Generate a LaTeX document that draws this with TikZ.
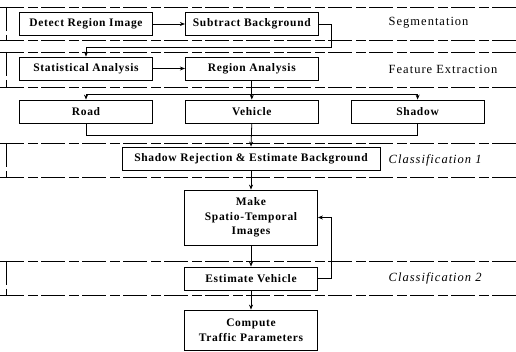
\documentclass[tikz,border=0pt]{standalone}
\usepackage{fontspec}
\setmainfont{Liberation Serif}
\newfontfamily\boxfont[LetterSpace=6]{Liberation Serif}
\newfontfamily\stagefont[LetterSpace=8]{Liberation Serif}
\usetikzlibrary{positioning,arrows.meta}

\begin{document}
\begin{tikzpicture}[x=1pt,y=1pt,>={Stealth[length=5pt,width=4pt]},line width=0.8pt,
    node distance=32pt,
    proc box/.style={draw,rectangle,minimum width=133pt,minimum height=23pt,inner sep=1pt,align=center,font=\boxfont\fontsize{11.5}{14.5}\selectfont\bfseries},
    stage label/.style={anchor=west,font=\stagefont\fontsize{12.5}{15}\selectfont},
    sep line/.style={line width=0.55pt,dash pattern=on 24pt off 4pt on 10pt off 3pt}]
    \useasboundingbox (0,0) rectangle (516,-352);

    % stage separators
    \foreach \y in {7,40,52,87,143,177,261,295}
        \draw[sep line] (0,-\y) -- (516,-\y);
    \foreach \a/\b in {7/40,52/87,143/177,261/295}
        \draw[sep line] (6,-\a) -- (6,-\b);

    % boxes
    \node[proc box] (detect) at (86,-24) {Detect Region Image};
    \node[proc box] (subtract) [right=of detect] {Subtract Background};
    \node[proc box] (stat) at (86,-68.5) {Statistical Analysis};
    \node[proc box] (region) [right=of stat] {Region Analysis};
    \node[proc box] (road) at (86,-111.5) {Road};
    \node[proc box] (vehicle) [right=of road] {Vehicle};
    \node[proc box] (shadow) [right=of vehicle] {Shadow};
    \node[proc box,minimum width=258pt] (reject) at (251,-158.5) {Shadow Rejection \& Estimate Background};
    \node[proc box,minimum height=55pt] (make) at (251,-217.5) {Make\\Spatio-Temporal\\Images};
    \node[proc box] (estimate) at (251,-278.5) {Estimate Vehicle};
    \node[proc box,minimum height=40pt] (compute) at (251,-330) {Compute\\Traffic Parameters};

    % stage names
    \node[stage label] (seg) at (385,-23) {Segmentation};
    \node[stage label] (feat) at (385,-69) {Feature Extraction};
    \node[stage label,font=\stagefont\fontsize{12.5}{15}\selectfont\itshape] (cls1) at (385,-160) {Classification 1};
    \node[stage label,font=\stagefont\fontsize{12.5}{15}\selectfont\itshape] (cls2) at (385,-278) {Classification 2};

    % flow
    \draw[->] (detect) -- (subtract);
    \draw[->] (subtract.east) -| ++(13,-23) -| (stat.north);
    \draw[->] (stat) -- (region);
    \draw (region.south) -- ++(0,-14) coordinate (split);
    \draw[->] (split) -| (road.north);
    \draw[->] (split) -- (vehicle.north);
    \draw[->] (split) -| (shadow.north);
    \draw (road.south) -- ++(0,-12) -| (shadow.south);
    \draw[->] (vehicle.south) -- (reject.north);
    \draw[->] (reject) -- (make);
    \draw[->] (make) -- (estimate);
    \draw[->] (estimate.east) -- ++(13,0) |- (make.east);
    \draw[->] (estimate) -- (compute);
\end{tikzpicture}
\end{document}
